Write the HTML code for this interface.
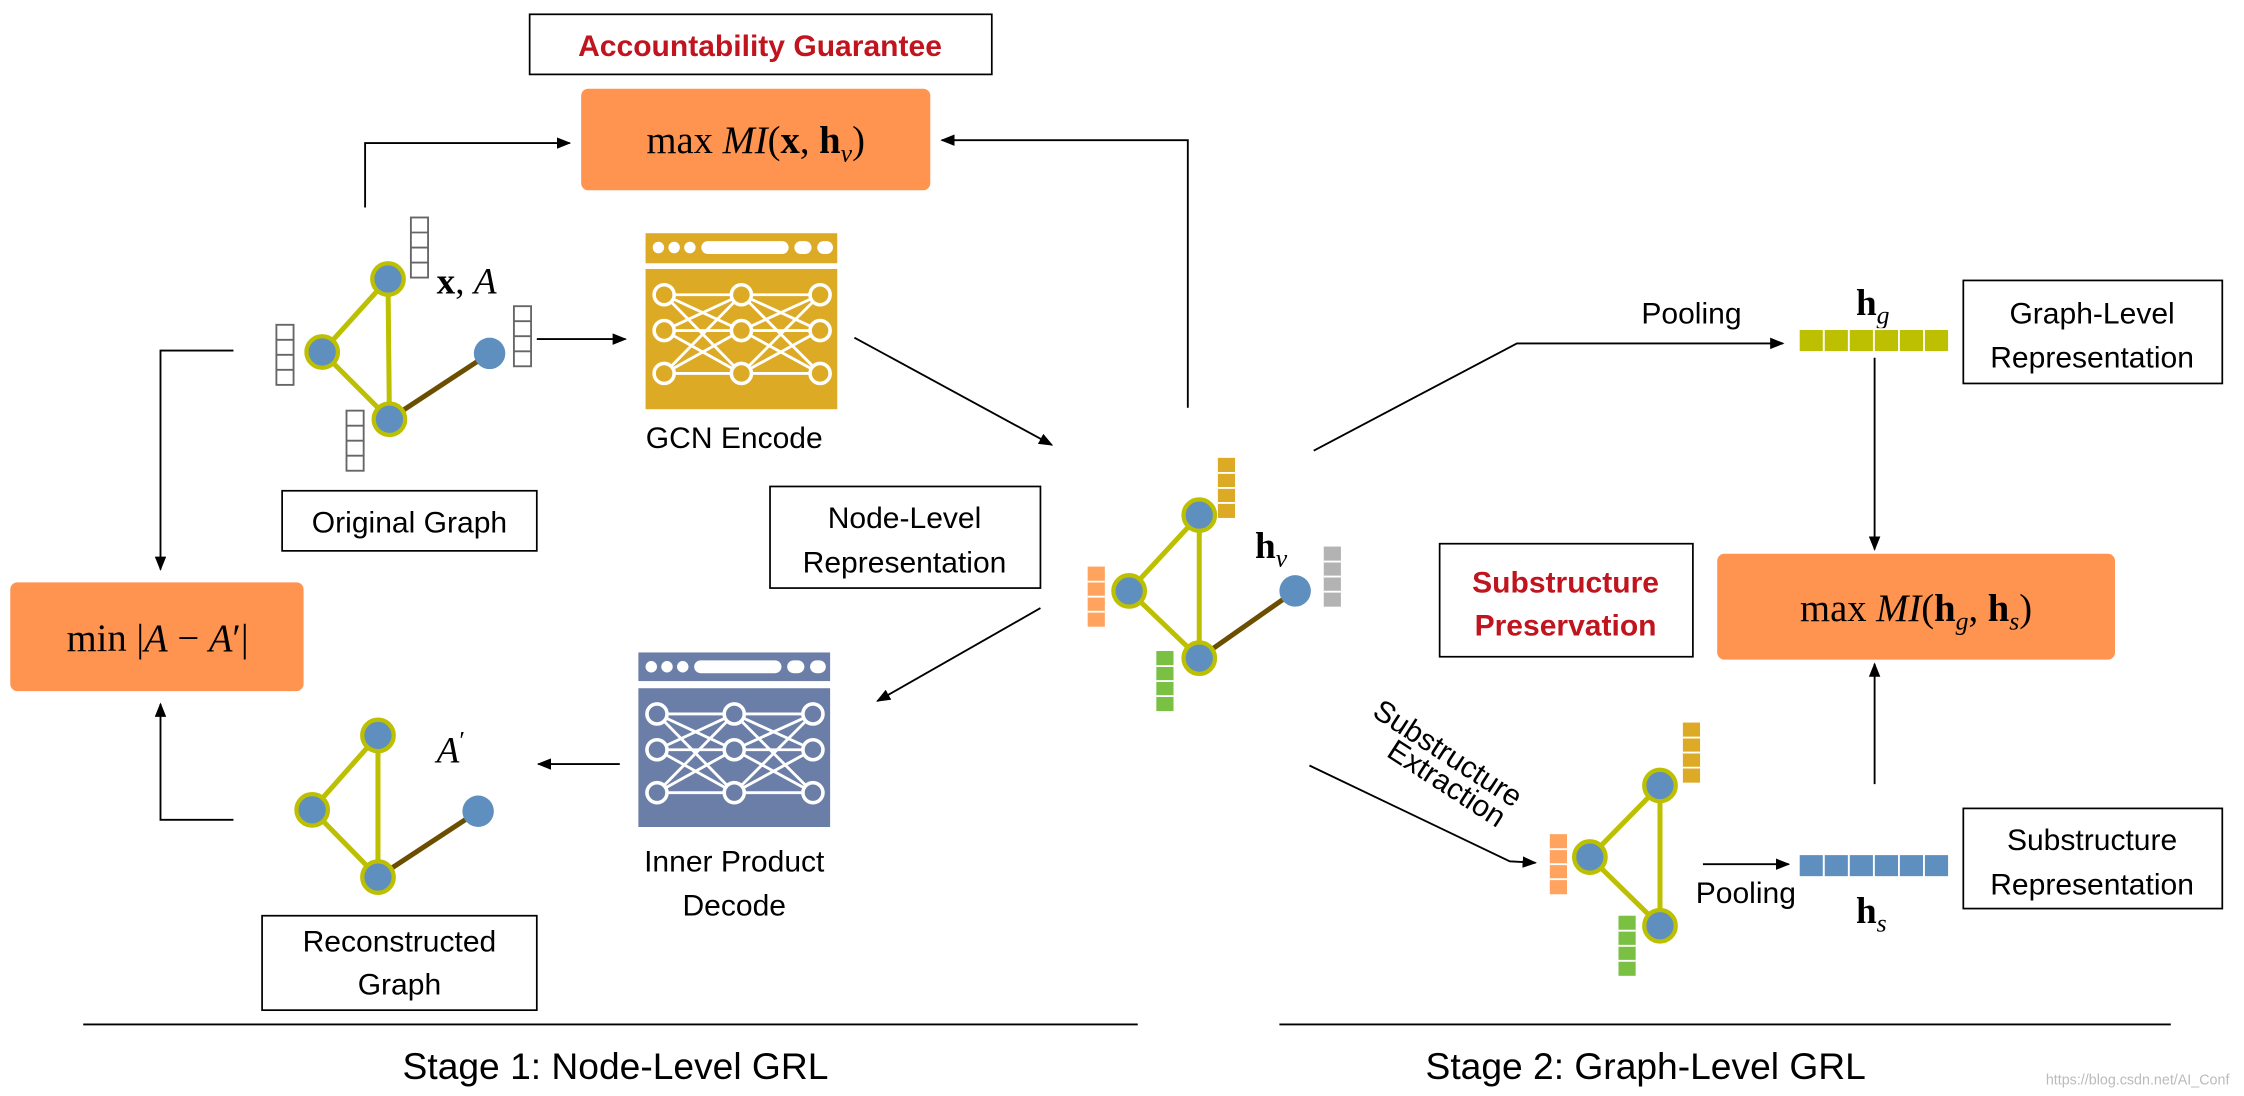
<!DOCTYPE html>
<html><head><meta charset="utf-8"><style>
html,body{margin:0;padding:0;background:#fff;}
svg{display:block;}
text{font-family:"Liberation Sans",sans-serif;}
.m{font-family:"Liberation Serif",serif;}
</style></head><body>
<svg width="2244" height="1096" viewBox="0 0 1568 766" xmlns="http://www.w3.org/2000/svg">
<defs>
<marker id="ar" markerWidth="10" markerHeight="8" refX="9" refY="4" orient="auto" markerUnits="userSpaceOnUse">
<path d="M0,0 L10,4 L0,8 z" fill="#000"/></marker>
<g id="vw"><rect x="0" y="0" width="12" height="42" fill="#fff" stroke="#666" stroke-width="1.3"/>
<line x1="0" y1="10.5" x2="12" y2="10.5" stroke="#666" stroke-width="1.3"/>
<line x1="0" y1="21" x2="12" y2="21" stroke="#666" stroke-width="1.3"/>
<line x1="0" y1="31.5" x2="12" y2="31.5" stroke="#666" stroke-width="1.3"/></g>
<g id="cells"><line x1="0" y1="10.5" x2="12" y2="10.5" stroke="#fff" stroke-width="1.3"/>
<line x1="0" y1="21" x2="12" y2="21" stroke="#fff" stroke-width="1.3"/>
<line x1="0" y1="31.5" x2="12" y2="31.5" stroke="#fff" stroke-width="1.3"/></g>
<g id="nn">
<g stroke="#fff" stroke-width="2" fill="none">
<path d="M13,0 L67,0 L122,0 M13,25 L67,25 L122,25 M13,55 L67,55 L122,55"/>
<path d="M13,0 L67,25 M13,0 L67,55 M13,25 L67,0 M13,25 L67,55 M13,55 L67,0 M13,55 L67,25"/>
<path d="M67,0 L122,25 M67,0 L122,55 M67,25 L122,0 M67,25 L122,55 M67,55 L122,0 M67,55 L122,25"/>
</g>
<g stroke="#fff" stroke-width="2.5" fill="currentColor">
<circle cx="13" cy="0" r="7"/><circle cx="67" cy="0" r="7"/><circle cx="122" cy="0" r="7"/>
<circle cx="13" cy="25" r="7"/><circle cx="67" cy="25" r="7"/><circle cx="122" cy="25" r="7"/>
<circle cx="13" cy="55" r="7"/><circle cx="67" cy="55" r="7"/><circle cx="122" cy="55" r="7"/>
</g></g>
<g id="hdr"><circle cx="9" cy="10" r="4" fill="#fff"/><circle cx="20" cy="10" r="4" fill="#fff"/><circle cx="31" cy="10" r="4" fill="#fff"/>
<rect x="39" y="5.5" width="61" height="9" rx="4.5" fill="#fff"/><rect x="104" y="5.5" width="12" height="9" rx="4.5" fill="#fff"/><rect x="120" y="5.5" width="11" height="9" rx="4.5" fill="#fff"/></g>
</defs>

<!-- Accountability -->
<rect x="370" y="10" width="323" height="42" fill="#fff" stroke="#000" stroke-width="1.2"/>
<text x="531" y="39" text-anchor="middle" font-size="21" font-weight="bold" fill="#c0141e">Accountability Guarantee</text>
<rect x="406" y="62" width="244" height="71" rx="5" fill="#ff9350"/>
<text x="528" y="107" text-anchor="middle" font-size="27" class="m">max <tspan font-style="italic">MI</tspan>(<tspan font-weight="bold">x</tspan>, <tspan font-weight="bold">h</tspan><tspan font-style="italic" font-size="18" dy="6">v</tspan><tspan dy="-6">)</tspan></text>

<polyline points="255,145 255,100 398,100" fill="none" stroke="#000" stroke-width="1.3" marker-end="url(#ar)"/>
<polyline points="830,285 830,98 658,98" fill="none" stroke="#000" stroke-width="1.3" marker-end="url(#ar)"/>

<!-- Original graph -->
<g stroke-width="3.5">
<line x1="271" y1="195" x2="225" y2="246" stroke="#bcc000"/>
<line x1="271" y1="195" x2="272" y2="293" stroke="#bcc000"/>
<line x1="225" y1="246" x2="272" y2="293" stroke="#bcc000"/>
<line x1="272" y1="293" x2="342" y2="247" stroke="#6b4e00"/>
</g>
<g fill="#5f8fbf" stroke="#bcc000" stroke-width="3">
<circle cx="271" cy="195" r="11"/><circle cx="225" cy="246" r="11"/><circle cx="272" cy="293" r="11"/></g>
<circle cx="342" cy="247" r="11" fill="#5f8fbf"/>
<use href="#vw" x="287" y="152"/><use href="#vw" x="193" y="227"/><use href="#vw" x="242" y="287"/><use href="#vw" x="359" y="214"/>
<text x="305" y="205" font-size="26" class="m"><tspan font-weight="bold">x</tspan>, <tspan font-style="italic">A</tspan></text>
<line x1="375" y1="237" x2="437" y2="237" stroke="#000" stroke-width="1.3" marker-end="url(#ar)"/>
<rect x="197" y="343" width="178" height="42" fill="#fff" stroke="#000" stroke-width="1.2"/>
<text x="286" y="372" text-anchor="middle" font-size="21">Original Graph</text>

<!-- GCN -->
<rect x="451" y="163" width="134" height="21" fill="#dcaa24"/>
<use href="#hdr" x="451" y="163"/>
<rect x="451" y="188" width="134" height="98" fill="#dcaa24"/>
<use href="#nn" x="451" y="206" color="#dcaa24"/>
<text x="513" y="313" text-anchor="middle" font-size="21">GCN Encode</text>
<line x1="597" y1="236" x2="735" y2="311" stroke="#000" stroke-width="1.3" marker-end="url(#ar)"/>

<rect x="538" y="340" width="189" height="71" fill="#fff" stroke="#000" stroke-width="1.2"/>
<text x="632" y="369" text-anchor="middle" font-size="21">Node-Level</text>
<text x="632" y="400" text-anchor="middle" font-size="21">Representation</text>

<!-- min box -->
<rect x="7" y="407" width="205" height="76" rx="5" fill="#ff9350"/>
<text x="110" y="455" text-anchor="middle" font-size="27" class="m">min |<tspan font-style="italic">A</tspan> − <tspan font-style="italic">A</tspan>′|</text>
<polyline points="163,245 112,245 112,398" fill="none" stroke="#000" stroke-width="1.3" marker-end="url(#ar)"/>
<polyline points="163,573 112,573 112,492" fill="none" stroke="#000" stroke-width="1.3" marker-end="url(#ar)"/>

<!-- center graph -->
<g stroke-width="3.5">
<line x1="838" y1="360" x2="789" y2="413" stroke="#bcc000"/>
<line x1="838" y1="360" x2="838" y2="460" stroke="#bcc000"/>
<line x1="789" y1="413" x2="838" y2="460" stroke="#bcc000"/>
<line x1="838" y1="460" x2="905" y2="413" stroke="#6b4e00"/>
</g>
<g fill="#5f8fbf" stroke="#bcc000" stroke-width="3">
<circle cx="838" cy="360" r="11"/><circle cx="789" cy="413" r="11"/><circle cx="838" cy="460" r="11"/></g>
<circle cx="905" cy="413" r="11" fill="#5f8fbf"/>
<rect x="851" y="320" width="12" height="42" fill="#dcaa24"/><use href="#cells" x="851" y="320"/>
<rect x="760" y="396" width="12" height="42" fill="#ffa35e"/><use href="#cells" x="760" y="396"/>
<rect x="808" y="455" width="12" height="42" fill="#7ac143"/><use href="#cells" x="808" y="455"/>
<rect x="925" y="382" width="12" height="42" fill="#b3b3b3"/><use href="#cells" x="925" y="382"/>
<text x="877" y="390" font-size="26" class="m"><tspan font-weight="bold">h</tspan><tspan font-style="italic" font-size="18" dy="6">v</tspan></text>

<line x1="727" y1="425" x2="613" y2="490" stroke="#000" stroke-width="1.3" marker-end="url(#ar)"/>

<!-- decoder -->
<rect x="446" y="456" width="134" height="20" fill="#6b7ea8"/>
<use href="#hdr" x="446" y="456"/>
<rect x="446" y="481" width="134" height="97" fill="#6b7ea8"/>
<use href="#nn" x="446" y="499" color="#6b7ea8"/>
<text x="513" y="609" text-anchor="middle" font-size="21">Inner Product</text>
<text x="513" y="640" text-anchor="middle" font-size="21">Decode</text>
<line x1="433" y1="534" x2="376" y2="534" stroke="#000" stroke-width="1.3" marker-end="url(#ar)"/>

<!-- reconstructed -->
<g stroke-width="3.5">
<line x1="264" y1="514" x2="218" y2="566" stroke="#bcc000"/>
<line x1="264" y1="514" x2="264" y2="613" stroke="#bcc000"/>
<line x1="218" y1="566" x2="264" y2="613" stroke="#bcc000"/>
<line x1="264" y1="613" x2="334" y2="567" stroke="#6b4e00"/>
</g>
<g fill="#5f8fbf" stroke="#bcc000" stroke-width="3">
<circle cx="264" cy="514" r="11"/><circle cx="218" cy="566" r="11"/><circle cx="264" cy="613" r="11"/></g>
<circle cx="334" cy="567" r="11" fill="#5f8fbf"/>
<text x="305" y="533" font-size="26" class="m" font-style="italic">A<tspan font-style="normal" font-size="18" dy="-10">′</tspan></text>
<rect x="183" y="640" width="192" height="66" fill="#fff" stroke="#000" stroke-width="1.2"/>
<text x="279" y="665" text-anchor="middle" font-size="21">Reconstructed</text>
<text x="279" y="695" text-anchor="middle" font-size="21">Graph</text>

<!-- stage lines -->
<line x1="58" y1="716" x2="795" y2="716" stroke="#000" stroke-width="1.3"/>
<line x1="894" y1="716" x2="1517" y2="716" stroke="#000" stroke-width="1.3"/>
<text x="430" y="754" text-anchor="middle" font-size="26">Stage 1: Node-Level GRL</text>
<text x="1150" y="754" text-anchor="middle" font-size="26">Stage 2: Graph-Level GRL</text>
<text x="1558" y="758" text-anchor="end" font-size="10" fill="#bbb">https://blog.csdn.net/AI_Conf</text>

<!-- right side -->
<polyline points="918,315 1060,240 1246,240" fill="none" stroke="#000" stroke-width="1.3" marker-end="url(#ar)"/>
<text x="1182" y="226" text-anchor="middle" font-size="21">Pooling</text>
<text x="1297" y="220" font-size="26" class="m"><tspan font-weight="bold">h</tspan><tspan font-style="italic" font-size="18" dy="6">g</tspan></text>
<g fill="#bcc000" stroke="#fff" stroke-width="1.3">
<rect x="1257" y="230" width="17.5" height="16"/><rect x="1274.5" y="230" width="17.5" height="16"/><rect x="1292" y="230" width="17.5" height="16"/><rect x="1309.5" y="230" width="17.5" height="16"/><rect x="1327" y="230" width="17.5" height="16"/><rect x="1344.5" y="230" width="17.5" height="16"/></g>
<rect x="1372" y="196" width="181" height="72" fill="#fff" stroke="#000" stroke-width="1.2"/>
<text x="1462" y="226" text-anchor="middle" font-size="21">Graph-Level</text>
<text x="1462" y="257" text-anchor="middle" font-size="21">Representation</text>
<line x1="1310" y1="250" x2="1310" y2="384" stroke="#000" stroke-width="1.3" marker-end="url(#ar)"/>

<rect x="1200" y="387" width="278" height="74" rx="5" fill="#ff9350"/>
<text x="1339" y="434" text-anchor="middle" font-size="27" class="m">max <tspan font-style="italic">MI</tspan>(<tspan font-weight="bold">h</tspan><tspan font-style="italic" font-size="18" dy="6">g</tspan><tspan dy="-6">, </tspan><tspan font-weight="bold">h</tspan><tspan font-style="italic" font-size="18" dy="6">s</tspan><tspan dy="-6">)</tspan></text>
<rect x="1006" y="380" width="177" height="79" fill="#fff" stroke="#000" stroke-width="1.2"/>
<text x="1094" y="414" text-anchor="middle" font-size="21" font-weight="bold" fill="#c0141e">Substructure</text>
<text x="1094" y="444" text-anchor="middle" font-size="21" font-weight="bold" fill="#c0141e">Preservation</text>
<line x1="1310" y1="548" x2="1310" y2="464" stroke="#000" stroke-width="1.3" marker-end="url(#ar)"/>

<text transform="translate(958,500) rotate(33)" font-size="21">Substructure</text>
<text transform="translate(968,528) rotate(33)" font-size="21">Extraction</text>
<polyline points="915,535 1055,602 1073,603" fill="none" stroke="#000" stroke-width="1.3" marker-end="url(#ar)"/>

<g stroke-width="3.5">
<line x1="1160" y1="549" x2="1111" y2="599" stroke="#bcc000"/>
<line x1="1160" y1="549" x2="1160" y2="647" stroke="#bcc000"/>
<line x1="1111" y1="599" x2="1160" y2="647" stroke="#bcc000"/>
</g>
<g fill="#5f8fbf" stroke="#bcc000" stroke-width="3">
<circle cx="1160" cy="549" r="11"/><circle cx="1111" cy="599" r="11"/><circle cx="1160" cy="647" r="11"/></g>
<rect x="1176" y="505" width="12" height="42" fill="#dcaa24"/><use href="#cells" x="1176" y="505"/>
<rect x="1083" y="583" width="12" height="42" fill="#ffa35e"/><use href="#cells" x="1083" y="583"/>
<rect x="1131" y="640" width="12" height="42" fill="#7ac143"/><use href="#cells" x="1131" y="640"/>

<line x1="1190" y1="604" x2="1250" y2="604" stroke="#000" stroke-width="1.3" marker-end="url(#ar)"/>
<text x="1220" y="631" text-anchor="middle" font-size="21">Pooling</text>
<g fill="#5f8fbf" stroke="#fff" stroke-width="1.3">
<rect x="1257" y="597" width="17.5" height="16"/><rect x="1274.5" y="597" width="17.5" height="16"/><rect x="1292" y="597" width="17.5" height="16"/><rect x="1309.5" y="597" width="17.5" height="16"/><rect x="1327" y="597" width="17.5" height="16"/><rect x="1344.5" y="597" width="17.5" height="16"/></g>
<text x="1297" y="645" font-size="26" class="m"><tspan font-weight="bold">h</tspan><tspan font-style="italic" font-size="18" dy="6">s</tspan></text>
<rect x="1372" y="565" width="181" height="70" fill="#fff" stroke="#000" stroke-width="1.2"/>
<text x="1462" y="594" text-anchor="middle" font-size="21">Substructure</text>
<text x="1462" y="625" text-anchor="middle" font-size="21">Representation</text>
</svg>
</body></html>
